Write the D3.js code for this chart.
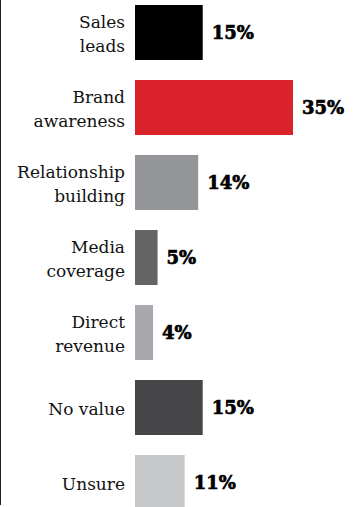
<!DOCTYPE html>
<html>
<head>
<meta charset="utf-8">
<script src="https://cdn.jsdelivr.net/npm/d3@7"></script>
<style>
  html, body { margin: 0; padding: 0; background: #fff; }
  svg { display: block; }
</style>
</head>
<body>
<svg id="chart" width="362" height="507"></svg>
<script>
// Survey answers: perceived value, share of respondents (%)
const categories = [
  ["Sales", "leads"],
  ["Brand", "awareness"],
  ["Relationship", "building"],
  ["Media", "coverage"],
  ["Direct", "revenue"],
  ["No value"],
  ["Unsure"]
];
const values = [15, 35, 14, 5, 4, 15, 11];
const barColors = ["#000000", "#d9222a", "#939598", "#636466", "#a7a9ac", "#464648", "#c6c7c8"];

const svg = d3.select("#chart");

// left rule
svg.append("line")
  .attr("x1", 0.5).attr("x2", 0.5)
  .attr("y1", 0).attr("y2", 505)
  .attr("stroke", "#222").attr("stroke-width", 1);

const x = d3.scaleLinear().domain([0, 35]).range([135, 293]);
const y = d3.scaleBand()
  .domain(d3.range(categories.length))
  .range([-5, 520])
  .paddingInner(20 / 75)
  .paddingOuter(10 / 75);

const rows = svg.selectAll("g.row")
  .data(values.map((v, i) => ({ v, i, label: categories[i], color: barColors[i] })))
  .join("g")
  .attr("class", "row");

rows.append("rect")
  .attr("x", x(0))
  .attr("y", d => y(d.i))
  .attr("width", d => x(d.v) - x(0))
  .attr("height", y.bandwidth())
  .attr("fill", d => d.color);

// value labels, heavy slab style
rows.append("text")
  .attr("x", d => x(d.v) + 9)
  .attr("y", d => y(d.i) + y.bandwidth() / 2)
  .attr("dy", "0.36em")
  .attr("font-family", "'DejaVu Serif', serif")
  .attr("font-weight", "bold")
  .attr("font-size", 18)
  .attr("fill", "#000")
  .attr("stroke", "#000")
  .attr("stroke-width", 0.7)
  .text(d => d.v + "%");

// category labels, right-aligned, one or two lines
rows.append("text")
  .attr("text-anchor", "end")
  .attr("font-family", "'DejaVu Serif', serif")
  .attr("font-size", 17)
  .attr("fill", "#111")
  .each(function(d) {
    const t = d3.select(this);
    const cy = y(d.i) + y.bandwidth() / 2;
    const lh = 24;
    const n = d.label.length;
    d.label.forEach((line, k) => {
      t.append("tspan")
        .attr("x", 125)
        .attr("y", cy + (k - (n - 1) / 2) * lh + 7)
        .text(line);
    });
  });
</script>
</body>
</html>
